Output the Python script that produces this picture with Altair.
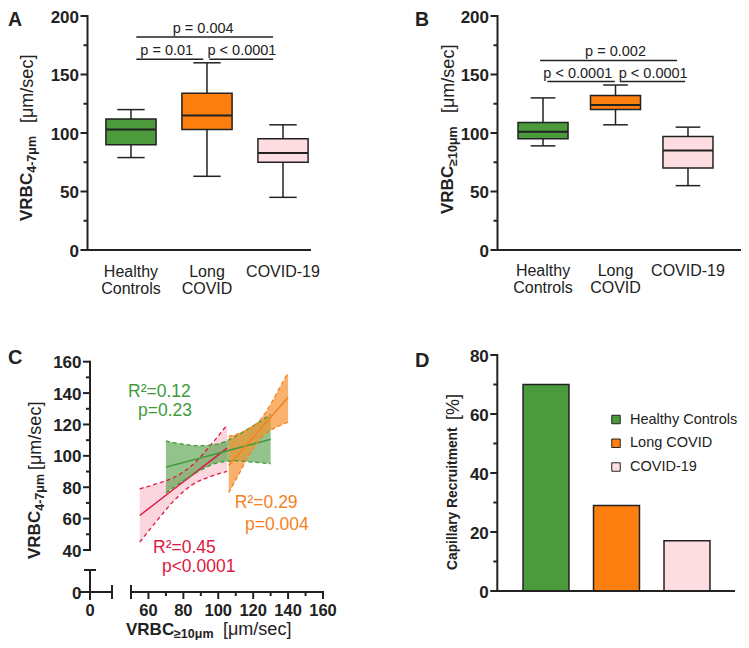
import altair as alt
import pandas as pd

# ---------------- data ----------------
groups = ["Healthy Controls", "Long COVID", "COVID-19"]
group_labels = ["Healthy\nControls", "Long\nCOVID", "COVID-19"]

# Panel A - VRBC 4-7 um [um/sec], box statistics
a_min = [79, 63, 45]
a_q1 = [90, 103, 75]
a_median = [103, 115, 83]
a_q3 = [112, 134, 95]
a_max = [120, 160, 107]
a_p_text = ["p = 0.01", "p < 0.0001", "p = 0.004"]
a_p_level = [163, 163, 182]
a_p_from = [0.07, 1.03, 0.07]
a_p_to = [0.95, 1.87, 1.87]
a_p_textpos = [0.47, 1.46, 0.95]

# Panel B - VRBC >=10 um [um/sec], box statistics
b_min = [89, 107, 55]
b_q1 = [95, 120, 70]
b_median = [101, 124, 85]
b_q3 = [109, 132, 97]
b_max = [130, 141, 105]
b_p_text = ["p < 0.0001", "p < 0.0001", "p = 0.002"]
b_p_level = [144, 144, 162]
b_p_from = [0.06, 1.06, -0.04]
b_p_to = [0.99, 1.96, 1.85]
b_p_textpos = [0.48, 1.52, 1.0]

# Panel C - regression lines with 95% confidence bands
c_red_x = [55, 65, 75, 85, 95, 105]
c_red_fit = [62.0, 70.6, 79.2, 87.7, 96.3, 104.9]
c_red_hi = [79.0, 82.3, 86.5, 94.0, 106.0, 119.7]
c_red_lo = [45.0, 58.9, 71.9, 81.5, 86.6, 90.1]

c_green_x = [70, 80, 90, 100, 110, 120, 130]
c_green_fit = [92.8, 95.8, 98.7, 101.7, 104.7, 107.6, 110.6]
c_green_hi = [109.5, 107.4, 106.5, 107.7, 112.5, 119.2, 126.4]
c_green_lo = [76.3, 84.2, 90.9, 95.7, 96.9, 96.0, 95.0]

c_orange_x = [106, 112, 118, 124, 130, 136, 140]
c_orange_fit = [93.9, 101.6, 109.3, 116.9, 124.6, 132.3, 137.4]
c_orange_hi = [112.5, 114.4, 117.6, 122.9, 132.9, 145.1, 153.0]
c_orange_lo = [76.5, 88.8, 101.1, 110.9, 116.4, 119.5, 121.5]

c_ann_text = ["R²=0.12", "p=0.23", "R²=0.29", "p=0.004", "R²=0.45", "p<0.0001"]
c_ann_x = [48.3, 54.0, 109.5, 115.3, 62.6, 67.7]
c_ann_y = [137.5, 125.5, 66.9, 53.0, 38.3, 26.2]

# Panel D - capillary recruitment [%]
d_recruitment = [70, 29, 17]

# ---------------- styles ----------------
FONT = "Liberation Sans"
INK = "#222222"
GREEN = "#4b9a3c"
ORANGE = "#fc7f10"
PINK = "#fddce2"
T_GREEN = "#3f9a3a"
T_RED = "#e0173f"
T_ORANGE = "#f5821f"
TICK_FS = 17

OFF = 8  # page margin


def P(v):
    return v - OFF


group_color = alt.Scale(domain=groups, range=[GREEN, ORANGE, PINK])

# panel scales (explicit pixel ranges)
xA = alt.Scale(domain=[-0.572, 2.355], range=[P(87.5), P(310)], nice=False, zero=False)
yA = alt.Scale(domain=[0, 200], range=[P(250), P(16)], nice=False, zero=False)
xB = alt.Scale(domain=[-0.628, 2.759], range=[P(497.5), P(743)], nice=False, zero=False)
yB = alt.Scale(domain=[0, 200], range=[P(250), P(16)], nice=False, zero=False)
xC = alt.Scale(domain=[50, 160], range=[P(131), P(323)], nice=False, zero=False)
yC = alt.Scale(domain=[40, 160], range=[P(550), P(361.7)], nice=False, zero=False)
xD = alt.Scale(domain=[-0.691, 2.667], range=[P(497.3), P(734)], nice=False, zero=False)
yD = alt.Scale(domain=[0, 80], range=[P(591), P(355)], nice=False, zero=False)


def X(f, s):
    return alt.X(f"{f}:Q", scale=s, axis=None)


def Y(f, s):
    return alt.Y(f"{f}:Q", scale=s, axis=None)


layers = []


def yaxis(px, ys, lo, hi, majors, minors, fs=TICK_FS):
    out = []
    out.append(alt.Chart(pd.DataFrame({"a": [lo], "b": [hi]})).mark_rule(
        color=INK, strokeWidth=2, strokeCap="square").encode(
        x=alt.value(P(px)), y=Y("a", ys), y2=alt.Y2("b")))
    out.append(alt.Chart(pd.DataFrame({"v": majors})).mark_rule(
        color=INK, strokeWidth=2).encode(
        x=alt.value(P(px)), x2=alt.value(P(px - 7)), y=Y("v", ys)))
    if minors:
        out.append(alt.Chart(pd.DataFrame({"v": minors})).mark_rule(
            color=INK, strokeWidth=2).encode(
            x=alt.value(P(px)), x2=alt.value(P(px - 4)), y=Y("v", ys)))
    out.append(alt.Chart(pd.DataFrame({"v": majors})).mark_text(
        align="right", baseline="middle", dy=1.5, fontSize=fs, fontWeight="bold",
        color=INK).encode(
        x=alt.value(P(px - 8.5)), y=Y("v", ys), text=alt.Text("v:Q", format="d")))
    return out


def xline(py, xs, lo, hi):
    return alt.Chart(pd.DataFrame({"a": [lo], "b": [hi]})).mark_rule(
        color=INK, strokeWidth=2, strokeCap="square").encode(
        y=alt.value(P(py)), x=X("a", xs), x2=alt.X2("b"))


def boxes(xs, ys, mins, q1, med, q3, maxs, half, cap):
    idx = [0, 1, 2]
    df = pd.DataFrame({"i": idx, "g": groups, "lo": mins, "q1": q1, "med": med, "q3": q3,
                       "hi": maxs,
                       "bl": [i - half for i in idx], "br": [i + half for i in idx],
                       "cl": [i - cap for i in idx], "cr": [i + cap for i in idx]})
    base = alt.Chart(df)
    return [
        base.mark_rule(color=INK, strokeWidth=1.5).encode(x=X("i", xs), y=Y("lo", ys), y2=alt.Y2("q1")),
        base.mark_rule(color=INK, strokeWidth=1.5).encode(x=X("i", xs), y=Y("q3", ys), y2=alt.Y2("hi")),
        base.mark_rule(color=INK, strokeWidth=1.5).encode(x=X("cl", xs), x2=alt.X2("cr"), y=Y("lo", ys)),
        base.mark_rule(color=INK, strokeWidth=1.5).encode(x=X("cl", xs), x2=alt.X2("cr"), y=Y("hi", ys)),
        base.mark_bar(stroke=INK, strokeWidth=1.5).encode(
            x=X("bl", xs), x2=alt.X2("br"), y=Y("q1", ys), y2=alt.Y2("q3"),
            color=alt.Color("g:N", scale=group_color, legend=None)),
        base.mark_rule(color=INK, strokeWidth=2).encode(x=X("bl", xs), x2=alt.X2("br"), y=Y("med", ys)),
    ]


def brackets(xs, ys, texts, level, x1, x2, tpos):
    df = pd.DataFrame({"t": texts, "y": level, "a": x1, "b": x2, "tx": tpos})
    base = alt.Chart(df)
    return [
        base.mark_rule(color=INK, strokeWidth=1.5).encode(x=X("a", xs), x2=alt.X2("b"), y=Y("y", ys)),
        base.mark_text(dy=-4, baseline="alphabetic", fontSize=14.5, color=INK).encode(
            x=X("tx", xs), y=Y("y", ys), text="t:N"),
    ]


def cat_labels(xs, py):
    df = pd.DataFrame({"i": [0, 1, 2], "lab": group_labels})
    return alt.Chart(df).mark_text(lineBreak="\n", lineHeight=17, fontSize=16,
                                   baseline="middle", align="center", color=INK).encode(
        x=X("i", xs), y=alt.value(P(py)), text="lab:N")


def txt(s, px, py, size, bold=False, angle=0, align="left", baseline="alphabetic", color=INK):
    m = dict(align=align, baseline=baseline, fontSize=size,
             fontWeight="bold" if bold else "normal", color=color)
    if angle:
        m["angle"] = angle
    return alt.Chart(pd.DataFrame({"t": [s]})).mark_text(**m).encode(
        x=alt.value(P(px)), y=alt.value(P(py)), text="t:N")


def rule_px(x1, y1, x2, y2, w=2):
    return alt.Chart(pd.DataFrame({"k": [0]})).mark_rule(color=INK, strokeWidth=w).encode(
        x=alt.value(P(x1)), x2=alt.value(P(x2)), y=alt.value(P(y1)), y2=alt.value(P(y2)))


# ---------------- Panel A ----------------
layers += boxes(xA, yA, a_min, a_q1, a_median, a_q3, a_max, 0.33, 0.18)
layers += brackets(xA, yA, a_p_text, a_p_level, a_p_from, a_p_to, a_p_textpos)
layers += yaxis(87.5, yA, 0, 200, [0, 50, 100, 150, 200], [25, 75, 125, 175])
layers.append(xline(250, xA, -0.572, 2.355))
layers.append(cat_labels(xA, 271.5))
layers.append(txt("A", 8, 26, 19.5, bold=True))
layers.append(txt("VRBC", 31.5, 221, 17, bold=True, angle=270))
layers.append(txt("4-7μm", 35.5, 172.8, 12.5, bold=True, angle=270))
layers.append(txt("[μm/sec]", 32.5, 123, 18, angle=270))

# ---------------- Panel B ----------------
layers += boxes(xB, yB, b_min, b_q1, b_median, b_q3, b_max, 0.345, 0.17)
layers += brackets(xB, yB, b_p_text, b_p_level, b_p_from, b_p_to, b_p_textpos)
layers += yaxis(497.5, yB, 0, 200, [0, 50, 100, 150, 200], [25, 75, 125, 175])
layers.append(xline(250, xB, -0.628, 2.759))
layers.append(cat_labels(xB, 271))
layers.append(txt("B", 415, 26, 19.5, bold=True))
layers.append(txt("VRBC", 453, 214, 17, bold=True, angle=270))
layers.append(txt("≥10μm", 457, 165.8, 12.5, bold=True, angle=270))
layers.append(txt("[μm/sec]", 454, 113, 18, angle=270))

# ---------------- Panel C ----------------
c_sets = [
    (c_red_x, c_red_fit, c_red_hi, c_red_lo, T_RED, "#f8b4c5", 0.55),
    (c_green_x, c_green_fit, c_green_hi, c_green_lo, T_GREEN, GREEN, 0.6),
    (c_orange_x, c_orange_fit, c_orange_hi, c_orange_lo, T_ORANGE, "#f7922f", 0.7),
]
for xs_, fit_, hi_, lo_, lc, fc, op in c_sets:
    df = pd.DataFrame({"x": xs_, "fit": fit_, "hi": hi_, "lo": lo_})
    layers.append(alt.Chart(df).mark_area(color=fc, opacity=op, interpolate="monotone").encode(
        x=X("x", xC), y=Y("lo", yC), y2=alt.Y2("hi")))
for xs_, fit_, hi_, lo_, lc, fc, op in c_sets:
    df = pd.DataFrame({"x": xs_, "fit": fit_, "hi": hi_, "lo": lo_})
    for col in ["hi", "lo"]:
        layers.append(alt.Chart(df).mark_line(color=lc, strokeWidth=1.3, strokeDash=[4, 3],
                                              interpolate="monotone").encode(
            x=X("x", xC), y=Y(col, yC)))
    layers.append(alt.Chart(df).mark_line(color=lc, strokeWidth=1.5).encode(
        x=X("x", xC), y=Y("fit", yC)))

ann = pd.DataFrame({"t": c_ann_text, "x": c_ann_x, "y": c_ann_y,
                    "g": ["Healthy Controls", "Healthy Controls", "Long COVID", "Long COVID",
                          "COVID-19", "COVID-19"]})
layers.append(alt.Chart(ann).mark_text(align="left", baseline="alphabetic", fontSize=17.5).encode(
    x=X("x", xC), y=Y("y", yC), text="t:N",
    color=alt.Color("g:N", scale=alt.Scale(domain=groups, range=[T_GREEN, T_ORANGE, T_RED]),
                    legend=None)))

layers += yaxis(90, yC, 40, 160, [40, 60, 80, 100, 120, 140, 160], [50, 70, 90, 110, 130, 150])
layers.append(xline(592, xC, 50, 160))
cx_major = pd.DataFrame({"v": [60, 80, 100, 120, 140, 160]})
cx_minor = pd.DataFrame({"v": [70, 90, 110, 130, 150]})
layers.append(alt.Chart(cx_major).mark_rule(color=INK, strokeWidth=2).encode(
    x=X("v", xC), y=alt.value(P(592)), y2=alt.value(P(599))))
layers.append(alt.Chart(cx_minor).mark_rule(color=INK, strokeWidth=2).encode(
    x=X("v", xC), y=alt.value(P(592)), y2=alt.value(P(596))))
layers.append(alt.Chart(pd.DataFrame({"v": [50]})).mark_rule(color=INK, strokeWidth=2).encode(
    x=X("v", xC), y=alt.value(P(585)), y2=alt.value(P(599))))
layers.append(alt.Chart(cx_major).mark_text(align="center", baseline="top", fontSize=16.5,
                                            fontWeight="bold", color=INK).encode(
    x=X("v", xC), y=alt.value(P(602.5)), text=alt.Text("v:Q", format="d")))
# broken-axis stub around the origin
layers.append(rule_px(80, 592, 112, 592))
layers.append(rule_px(112, 585, 112, 599))
layers.append(rule_px(90, 570, 90, 600))
layers.append(rule_px(84, 570, 96, 570))
layers.append(txt("0", 81.5, 593.5, TICK_FS, bold=True, align="right", baseline="middle"))
layers.append(txt("0", 90, 602.5, 16.5, bold=True, align="center", baseline="top"))

layers.append(txt("C", 8, 364, 20, bold=True))
layers.append(txt("VRBC", 40, 559, 17, bold=True, angle=270))
layers.append(txt("4-7μm", 44, 510.8, 12.5, bold=True, angle=270))
layers.append(txt("[μm/sec]", 41, 470, 18, angle=270))
layers.append(txt("VRBC", 126, 634.5, 17, bold=True))
layers.append(txt("≥10μm", 174, 637.5, 12.5, bold=True))
layers.append(txt("[μm/sec]", 223, 634.5, 18))

# ---------------- Panel D ----------------
d_df = pd.DataFrame({"i": [0, 1, 2], "g": groups, "v": d_recruitment, "z": [0, 0, 0],
                     "bl": [i - 0.326 for i in range(3)], "br": [i + 0.326 for i in range(3)]})
layers.append(alt.Chart(d_df).mark_bar(stroke=INK, strokeWidth=1.5).encode(
    x=X("bl", xD), x2=alt.X2("br"), y=Y("v", yD), y2=alt.Y2("z"),
    color=alt.Color("g:N", scale=group_color, legend=None)))
layers += yaxis(497.3, yD, 0, 80, [0, 20, 40, 60, 80], [10, 30, 50, 70])
layers.append(xline(591, xD, -0.691, 2.667))

leg = pd.DataFrame({"row": [0, 1, 2], "g": groups})
leg_y = alt.Scale(domain=[0, 2], range=[P(419.5), P(467)], nice=False, zero=False)
layers.append(alt.Chart(leg).mark_square(size=72, filled=True, opacity=1, stroke=INK,
                                         strokeWidth=1).encode(
    x=alt.value(P(616)), y=alt.Y("row:Q", scale=leg_y, axis=None),
    color=alt.Color("g:N", scale=group_color, legend=None)))
layers.append(alt.Chart(leg).mark_text(align="left", baseline="middle", fontSize=14.5,
                                       color=INK).encode(
    x=alt.value(P(630)), y=alt.Y("row:Q", scale=leg_y, axis=None), text="g:N"))

layers.append(txt("D", 415, 367, 20, bold=True))
layers.append(txt("Capillary Recruitment", 456.5, 570, 13.8, bold=True, angle=270))
layers.append(txt("[%]", 458.5, 420, 18, angle=270))

chart = alt.layer(*layers).resolve_scale(
    x="independent", y="independent", color="independent"
).properties(
    width=733, height=632, autosize=alt.AutoSizeParams(type="none"), padding=0
).configure(font=FONT).configure_view(stroke="transparent")

chart.save("out.html", embed_options={"renderer": "svg", "actions": False})
